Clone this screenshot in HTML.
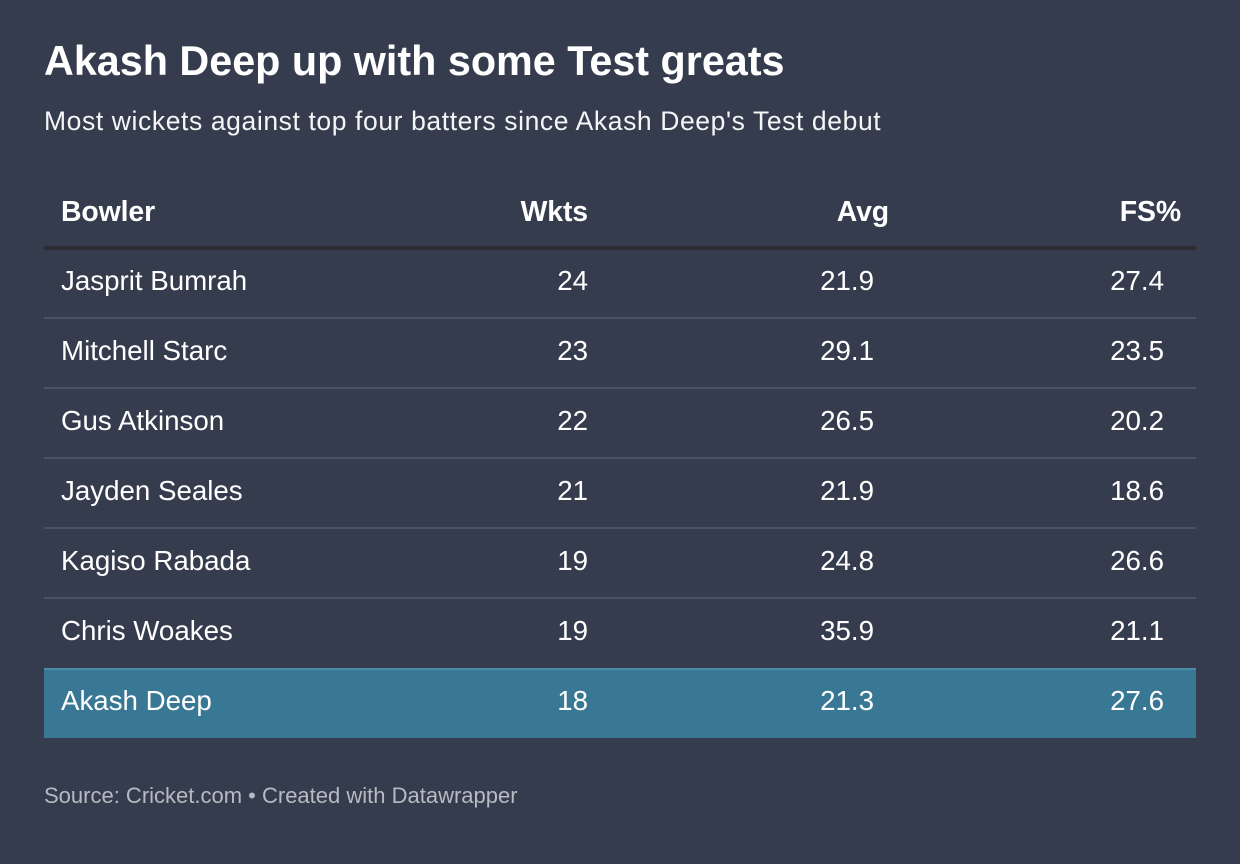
<!DOCTYPE html>
<html>
<head>
<meta charset="utf-8">
<style>
  html, body { margin:0; padding:0; }
  body { width:1240px; height:864px; background:#343c4d; position:relative; overflow:hidden;
         font-family:"Liberation Sans", Arial, Helvetica, sans-serif; color:#fff; }
  .t { position:absolute; line-height:1; white-space:nowrap; }
  .title { left:44px; top:41px; font-size:41.3px; font-weight:bold; letter-spacing:0px; }
  .sub { left:44px; top:107.5px; font-size:26.5px; letter-spacing:0.6px; color:#f4f5f7; }
  .hd { font-size:28.4px; font-weight:bold; top:198px; letter-spacing:-0.1px; }
  .r { font-size:27.7px; }
  .num { text-align:right; }
  .hline { position:absolute; left:44px; width:1152px; top:246px; height:4px; background:#2b2d31; }
  .sep { position:absolute; left:44px; width:1152px; height:2px; background:#4a5263; }
  .hl { position:absolute; left:44px; width:1152px; top:668px; height:70px; background:#387894; border-top:2px solid #4a8ba6; box-sizing:border-box; }
  .src { left:44px; top:785px; font-size:22px; color:#b6bac2; }
</style>
</head>
<body>
<div class="t title">Akash Deep up with some Test greats</div>
<div class="t sub">Most wickets against top four batters since Akash Deep's Test debut</div>

<div class="t hd" style="left:61px;">Bowler</div>
<div class="t hd num" style="right:652px;">Wkts</div>
<div class="t hd num" style="right:351px;">Avg</div>
<div class="t hd num" style="right:59px;">FS%</div>

<div class="hline"></div>

<div class="sep" style="top:317px;"></div>
<div class="sep" style="top:387px;"></div>
<div class="sep" style="top:457px;"></div>
<div class="sep" style="top:527px;"></div>
<div class="sep" style="top:597px;"></div>

<div class="hl"></div>

<!-- Row 1 -->
<div class="t r" style="left:61px; top:266.5px;">Jasprit Bumrah</div>
<div class="t r num" style="right:652px; top:266.5px;">24</div>
<div class="t r num" style="right:366px; top:266.5px;">21.9</div>
<div class="t r num" style="right:76px; top:266.5px;">27.4</div>
<!-- Row 2 -->
<div class="t r" style="left:61px; top:336.5px;">Mitchell Starc</div>
<div class="t r num" style="right:652px; top:336.5px;">23</div>
<div class="t r num" style="right:366px; top:336.5px;">29.1</div>
<div class="t r num" style="right:76px; top:336.5px;">23.5</div>
<!-- Row 3 -->
<div class="t r" style="left:61px; top:406.5px;">Gus Atkinson</div>
<div class="t r num" style="right:652px; top:406.5px;">22</div>
<div class="t r num" style="right:366px; top:406.5px;">26.5</div>
<div class="t r num" style="right:76px; top:406.5px;">20.2</div>
<!-- Row 4 -->
<div class="t r" style="left:61px; top:476.5px;">Jayden Seales</div>
<div class="t r num" style="right:652px; top:476.5px;">21</div>
<div class="t r num" style="right:366px; top:476.5px;">21.9</div>
<div class="t r num" style="right:76px; top:476.5px;">18.6</div>
<!-- Row 5 -->
<div class="t r" style="left:61px; top:546.5px;">Kagiso Rabada</div>
<div class="t r num" style="right:652px; top:546.5px;">19</div>
<div class="t r num" style="right:366px; top:546.5px;">24.8</div>
<div class="t r num" style="right:76px; top:546.5px;">26.6</div>
<!-- Row 6 -->
<div class="t r" style="left:61px; top:616.5px;">Chris Woakes</div>
<div class="t r num" style="right:652px; top:616.5px;">19</div>
<div class="t r num" style="right:366px; top:616.5px;">35.9</div>
<div class="t r num" style="right:76px; top:616.5px;">21.1</div>
<!-- Row 7 highlighted -->
<div class="t r" style="left:61px; top:686.5px;">Akash Deep</div>
<div class="t r num" style="right:652px; top:686.5px;">18</div>
<div class="t r num" style="right:366px; top:686.5px;">21.3</div>
<div class="t r num" style="right:76px; top:686.5px;">27.6</div>

<div class="t src">Source: Cricket.com • Created with Datawrapper</div>
</body>
</html>
